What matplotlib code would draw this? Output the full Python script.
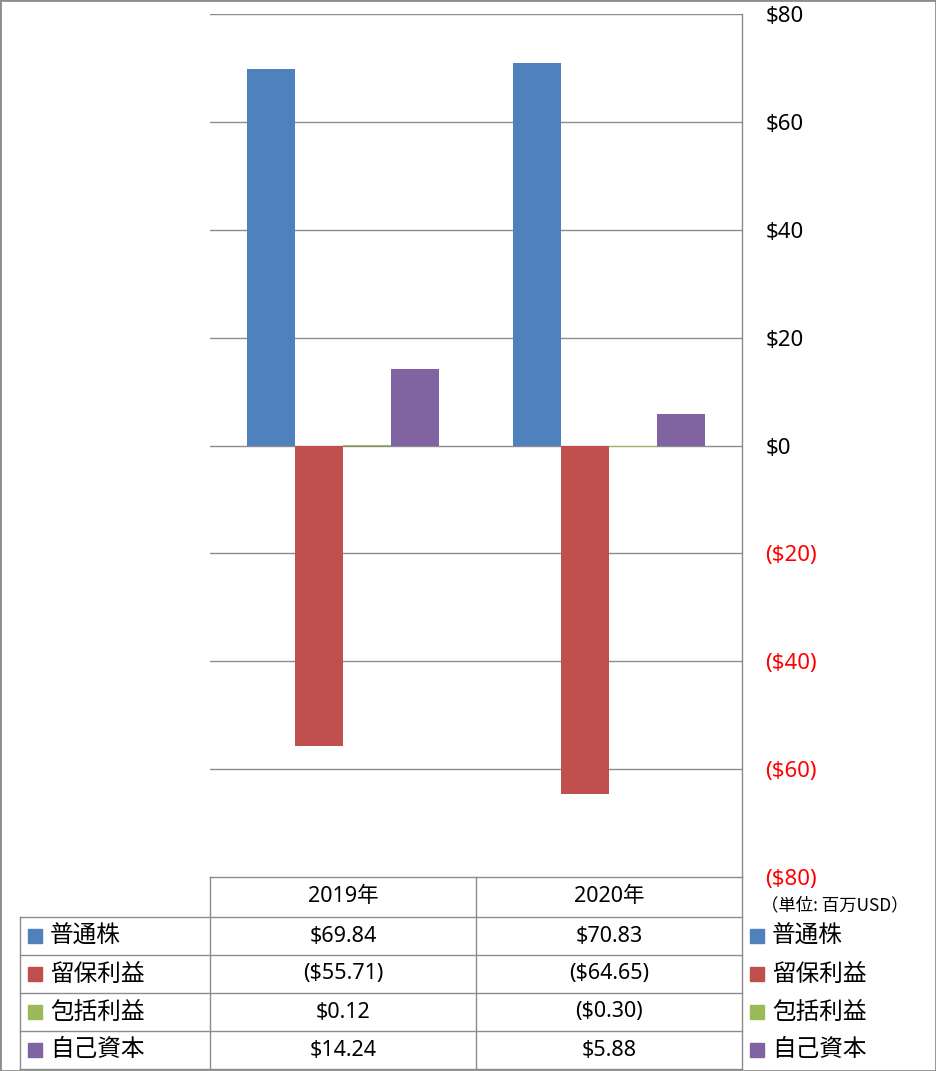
import matplotlib
matplotlib.use("Agg")
import matplotlib.pyplot as plt
from matplotlib.lines import Line2D
from matplotlib.patches import Rectangle
import numpy as np

plt.rcParams['font.family'] = ['Noto Sans', 'Noto Sans CJK JP', 'DejaVu Sans']

# ---- data ----
years = ["2019年", "2020年"]
series_names = ["普通株", "留保利益", "包括利益", "自己資本"]
common_stock = [69.84, 70.83]
retained_earnings = [-55.71, -64.65]
comprehensive_income = [0.12, -0.30]
equity = [14.24, 5.88]
table_text = [
    ["$69.84", "$70.83"],
    ["($55.71)", "($64.65)"],
    ["$0.12", "($0.30)"],
    ["$14.24", "$5.88"],
]
yticks = [-80, -60, -40, -20, 0, 20, 40, 60, 80]
ytick_labels = ["($80)", "($60)", "($40)", "($20)", "$0", "$20", "$40", "$60", "$80"]
unit_label = "（単位: 百万USD）"

colors = ["#4F81BD", "#C0504D", "#9BBB59", "#8064A2"]
grid_c = "#8C8C8C"

W, H = 936, 1071
fig = plt.figure(figsize=(W / 100, H / 100), dpi=100)

def fx(x):
    return x / W

def fy(y):
    return 1 - y / H

# plot area
L, R, T, B = 210, 742, 14, 877
ax = fig.add_axes([fx(L), fy(B), (R - L) / W, (B - T) / H])
series = [common_stock, retained_earnings, comprehensive_income, equity]
x = np.arange(len(years))
bw = 48 / 266
for i, (vals, c) in enumerate(zip(series, colors)):
    ax.bar(x + (i - 1.5) * bw, vals, width=bw, color=c, zorder=3)
ax.set_xlim(-0.5, 1.5)
ax.set_ylim(-80, 80)
ax.set_yticks(yticks)
ax.yaxis.tick_right()
ax.set_yticklabels(ytick_labels, fontsize=16)
for lab, v in zip(ax.get_yticklabels(), yticks):
    lab.set_color("red" if v < 0 else "black")
    lab.set_horizontalalignment("left")
ax.tick_params(axis='y', length=0, pad=17)
ax.set_xticks([])
for g in yticks[1:]:
    ax.axhline(g, color=grid_c, lw=1, zorder=1)
for s in ["left", "top", "bottom"]:
    ax.spines[s].set_visible(False)
ax.spines["right"].set_color(grid_c)
ax.spines["right"].set_linewidth(1)

# figure-level lines
def hline(y, x0, x1):
    fig.add_artist(Line2D([fx(x0), fx(x1)], [fy(y), fy(y)], color=grid_c, lw=1))

def vline(x0, y0, y1):
    fig.add_artist(Line2D([fx(x0), fx(x0)], [fy(y0), fy(y1)], color=grid_c, lw=1))

# outer border
fig.add_artist(Rectangle((0, 0), 1, 1, transform=fig.transFigure, fill=False,
                         edgecolor=grid_c, lw=2))

# table
row_y = [917, 955, 993, 1031, 1069]
hline(877, 210, 742)
for ry in row_y:
    hline(ry, 20, 742)
vline(210, 877, 1069)
vline(476, 877, 1069)
vline(742, 877, 1069)
vline(20, 917, 1069)

col_x = [343, 609]
for j, yr in enumerate(years):
    fig.text(fx(col_x[j]), fy(897), yr, ha='center', va='center', fontsize=15.5)

for i, name in enumerate(series_names):
    cy = (row_y[i] + row_y[i + 1]) / 2
    fig.add_artist(Rectangle((fx(28), fy(cy + 7)), 14 / W, 14 / H,
                             transform=fig.transFigure, color=colors[i]))
    fig.text(fx(50), fy(cy), name, ha='left', va='center', fontsize=17,
             family=['Noto Sans CJK JP'])
    for j in range(2):
        fig.text(fx(col_x[j]), fy(cy), table_text[i][j], ha='center', va='center',
                 fontsize=15.5)
    # right legend
    fig.add_artist(Rectangle((fx(750), fy(cy + 7)), 14 / W, 14 / H,
                             transform=fig.transFigure, color=colors[i]))
    fig.text(fx(772), fy(cy), name, ha='left', va='center', fontsize=17,
             family=['Noto Sans CJK JP'])

fig.text(fx(835), fy(905), unit_label, ha='center', va='center', fontsize=12.5,
         family=['Noto Sans CJK JP'])

fig.savefig("out.png", dpi=100)
